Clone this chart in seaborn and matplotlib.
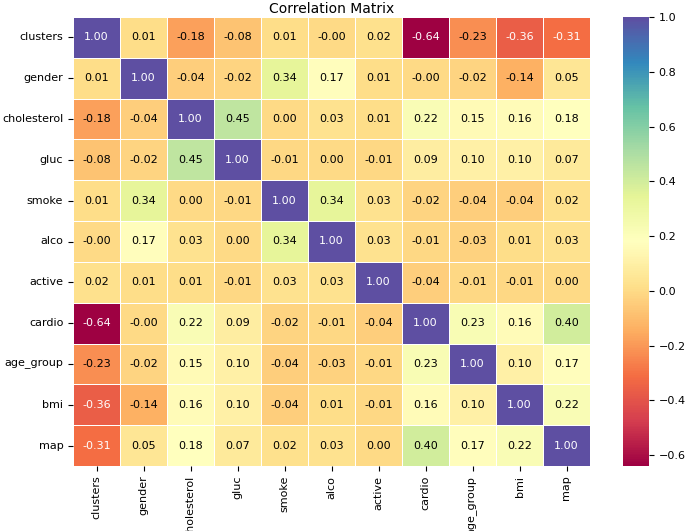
import matplotlib
matplotlib.use("Agg")
import matplotlib.pyplot as plt
import numpy as np
import pandas as pd
import seaborn as sns

labels = ["clusters", "gender", "cholesterol", "gluc", "smoke", "alco",
          "active", "cardio", "age_group", "bmi", "map"]

clusters = [1.00, 0.01, -0.18, -0.08, 0.01, -0.00, 0.02, -0.64, -0.23, -0.36, -0.31]
gender = [0.01, 1.00, -0.04, -0.02, 0.34, 0.17, 0.01, -0.00, -0.02, -0.14, 0.05]
cholesterol = [-0.18, -0.04, 1.00, 0.45, 0.00, 0.03, 0.01, 0.22, 0.15, 0.16, 0.18]
gluc = [-0.08, -0.02, 0.45, 1.00, -0.01, 0.00, -0.01, 0.09, 0.10, 0.10, 0.07]
smoke = [0.01, 0.34, 0.00, -0.01, 1.00, 0.34, 0.03, -0.02, -0.04, -0.04, 0.02]
alco = [-0.00, 0.17, 0.03, 0.00, 0.34, 1.00, 0.03, -0.01, -0.03, 0.01, 0.03]
active = [0.02, 0.01, 0.01, -0.01, 0.03, 0.03, 1.00, -0.04, -0.01, -0.01, 0.00]
cardio = [-0.64, -0.00, 0.22, 0.09, -0.02, -0.01, -0.04, 1.00, 0.23, 0.16, 0.40]
age_group = [-0.23, -0.02, 0.15, 0.10, -0.04, -0.03, -0.01, 0.23, 1.00, 0.10, 0.17]
bmi = [-0.36, -0.14, 0.16, 0.10, -0.04, 0.01, -0.01, 0.16, 0.10, 1.00, 0.22]
map_ = [-0.31, 0.05, 0.18, 0.07, 0.02, 0.03, 0.00, 0.40, 0.17, 0.22, 1.00]

rows = [clusters, gender, cholesterol, gluc, smoke, alco, active, cardio,
        age_group, bmi, map_]
corr = pd.DataFrame(rows, index=labels, columns=labels)

fig = plt.figure(figsize=(6.85, 5.31), dpi=100)
ax = fig.add_axes([73 / 685, 1 - 466 / 531, 517 / 685, 449 / 531])
cax = fig.add_axes([623 / 685, 1 - 466 / 531, 26 / 685, 449 / 531])

sns.heatmap(corr, ax=ax, cbar_ax=cax, cmap="Spectral", annot=True, fmt=".2f",
            linewidths=0.5, linecolor="white", annot_kws={"size": 8})

# annotation colours as in the original: white on the dark cells
vals = corr.values.flatten()
for txt, v in zip(ax.texts, vals):
    txt.set_color("white" if (v <= -0.3 or v >= 0.99) else "black")

ax.set_title("Correlation Matrix", fontsize=10, pad=3)
ax.tick_params(axis="x", labelrotation=90, labelsize=8)
ax.tick_params(axis="y", labelrotation=0, labelsize=8)
cax.tick_params(labelsize=8)

fig.savefig("out.png", dpi=100)
